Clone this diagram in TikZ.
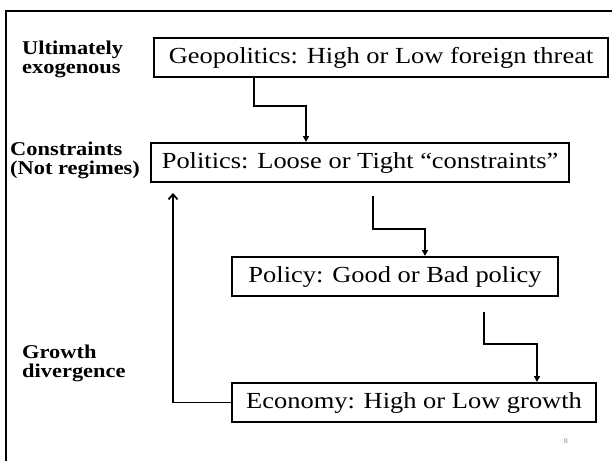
\documentclass[tikz,border=0pt]{standalone}
\usepackage{fontspec}
\setmainfont[FakeStretch=1.15]{Liberation Serif}
\usetikzlibrary{arrows.meta,positioning,calc}
\tikzset{
  stage/.style={draw, line width=2.1pt, minimum height=39pt, inner sep=0pt,
                anchor=north west, font=\fontsize{23}{27}\selectfont},
  flow/.style={line width=1.8pt, -{Triangle[length=6pt,width=6pt]}},
  back/.style={line width=1.8pt, -{Straight Barb[length=5pt,width=9pt,line width=1.8pt]}},
  side/.style={align=left, anchor=base west, inner sep=0pt,
               font=\fontsize{19.5}{19}\selectfont\bfseries},
}

\begin{document}
\begin{tikzpicture}[x=1pt,y=-1pt]
  \useasboundingbox (0,0) rectangle (612,461);
  % slide frame
  \draw[line width=2.5pt] (6,461) -- (6,11) -- (612,11);

  % stages
  \node[stage, minimum width=454pt] (geo) at (153,37) {Geopolitics: High or Low foreign threat};
  \node[stage, minimum width=418pt] (pol) at (150,142) {Politics: Loose or Tight “constraints”};
  \node[stage, minimum width=326pt] (policy) at (231,256) {Policy: Good or Bad policy};
  \node[stage, minimum width=364pt] (econ) at (231,382) {Economy: High or Low growth};

  % side labels (anchored at the second line)
  \node[side] (exo) at (22,73) {Ultimately\\exogenous};
  \node[side] (cons) at (10,174) {Constraints\\(Not regimes)};
  \node[side] (grow) at (22,377) {Growth\\divergence};
  \node[font=\fontsize{7}{8}\selectfont, text=gray, anchor=base] (page) at (566,443) {8};

  % turning points of the connectors
  \coordinate (g1) at (254,106);
  \coordinate (g2) at (306,106);
  \coordinate (p1) at (373,196);
  \coordinate (p2) at (425,229);
  \coordinate (q1) at (484,312);
  \coordinate (q2) at (537,344);
  \coordinate (e1) at (173,193);

  \draw[flow] (geo.south -| g1) |- (g2) -- (pol.north -| g2);
  \draw[flow] (p1) |- (p2) -- (policy.north -| p2);
  \draw[flow] (q1) |- (q2) -- (econ.north -| q2);
  \draw[back] (econ.west) -| (e1);
\end{tikzpicture}
\end{document}
